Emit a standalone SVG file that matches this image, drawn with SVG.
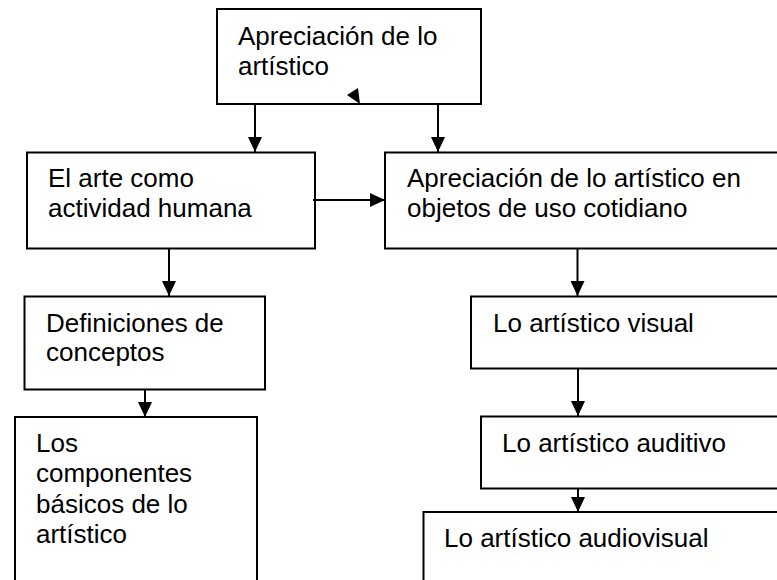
<svg xmlns="http://www.w3.org/2000/svg" width="777" height="580" viewBox="0 0 777 580">
<defs>
<style>
.box{fill:#fff;stroke:#000;stroke-width:2}
.t{font-family:"Liberation Sans",Arial,sans-serif;font-size:26px;fill:#000}
.c{stroke:#000;stroke-width:2;fill:none}
</style>
<marker id="ah" viewBox="0 0 15 14" refX="15" refY="7" markerWidth="15" markerHeight="14" markerUnits="userSpaceOnUse" orient="auto">
<path d="M0,0 L15,7 L0,14 z" fill="#000"/>
</marker>
</defs>
<rect width="777" height="580" fill="#fff"/>
<g id="n-top">
<rect class="box" x="217" y="9" width="264" height="95"/>
<text class="t" x="238" y="45">Apreciación de lo</text>
<text class="t" x="238" y="75">artístico</text>
</g>
<g id="n-arte">
<rect class="box" x="27" y="152.5" width="288" height="96"/>
<text class="t" x="48" y="187">El arte como</text>
<text class="t" x="48" y="217">actividad humana</text>
</g>
<g id="n-objetos">
<rect class="box" x="385" y="152.5" width="420" height="96"/>
<text class="t" x="407" y="187">Apreciación de lo artístico en</text>
<text class="t" x="407" y="217">objetos de uso cotidiano</text>
</g>
<g id="n-definiciones">
<rect class="box" x="24.5" y="296.5" width="240.5" height="93"/>
<text class="t" x="46" y="332">Definiciones de</text>
<text class="t" x="46" y="361">conceptos</text>
</g>
<g id="n-componentes">
<rect class="box" x="15" y="417" width="242" height="200"/>
<text class="t" x="36" y="452">Los</text>
<text class="t" x="36" y="482">componentes</text>
<text class="t" x="36" y="513">básicos de lo</text>
<text class="t" x="36" y="543">artístico</text>
</g>
<g id="n-visual">
<rect class="box" x="471" y="296.5" width="400" height="72"/>
<text class="t" x="493" y="332">Lo artístico visual</text>
</g>
<g id="n-auditivo">
<rect class="box" x="481" y="416.5" width="400" height="72"/>
<text class="t" x="502" y="452">Lo artístico auditivo</text>
</g>
<g id="n-audiovisual">
<rect class="box" x="423.5" y="512" width="400" height="100"/>
<text class="t" x="444" y="547">Lo artístico audiovisual</text>
</g>
<g id="connectors">
<line class="c" x1="255" y1="104" x2="255" y2="152" marker-end="url(#ah)"/>
<line class="c" x1="438" y1="104" x2="438" y2="152" marker-end="url(#ah)"/>
<line class="c" x1="313" y1="200" x2="385" y2="200" marker-end="url(#ah)"/>
<line class="c" x1="169" y1="248" x2="169" y2="296" marker-end="url(#ah)"/>
<line class="c" x1="577.5" y1="248" x2="577.5" y2="296" marker-end="url(#ah)"/>
<line class="c" x1="145" y1="390" x2="145" y2="417" marker-end="url(#ah)"/>
<line class="c" x1="578" y1="368" x2="578" y2="416" marker-end="url(#ah)"/>
<line class="c" x1="578" y1="488" x2="578" y2="512" marker-end="url(#ah)"/>
<polygon points="347,95 358,88 360,104" fill="#000"/>
</g>
</svg>
